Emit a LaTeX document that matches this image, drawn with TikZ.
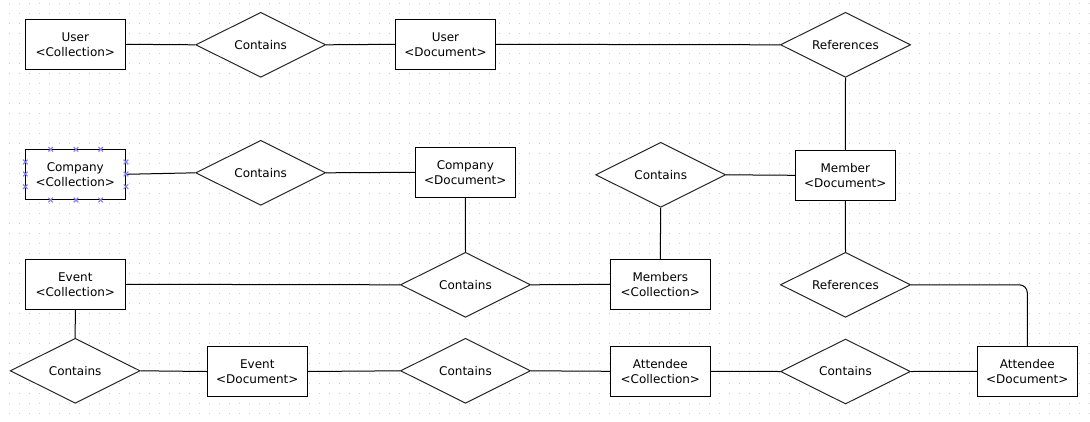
\documentclass[tikz,border=0pt]{standalone}
\usepackage{fontspec}
\setmainfont{DejaVu Sans}
\usetikzlibrary{shapes.geometric}
\definecolor{gridc}{RGB}{205,205,205}
\definecolor{selc}{RGB}{128,128,255}
\tikzset{
  ent/.style={draw=black, fill=white, line width=1pt, rectangle, minimum width=100pt, minimum height=50pt, inner sep=0pt, align=center, font=\fontsize{12}{15}\selectfont},
  rel/.style={draw=black!85, fill=white, line width=1pt, diamond, aspect=2, minimum width=130pt, minimum height=65pt, inner sep=0pt, font=\fontsize{12}{15}\selectfont},
  conn/.style={draw=black, line width=1pt},
  selmark/.style={draw=selc, line width=1.1pt}
}
\begin{document}
\begin{tikzpicture}[x=1pt,y=-1pt]
\useasboundingbox (0,0) rectangle (1090,421);
\fill[white] (0,0) rectangle (1090,421);
\foreach \i in {0,...,108}{
  \foreach \j in {0,...,41}{
    \fill[gridc] ({9+10*\i},{3+10*\j}) rectangle ++(1,1);
  }
}
% nodes
\node[ent] (uc) at (75.3,44.3) {User\\\textless Collection\textgreater};
\node[rel] (c1) at (260.7,44.8) {Contains};
\node[ent] (ud) at (445.5,44.3) {User\\\textless Document\textgreater};
\node[rel] (r1) at (845.5,44.8) {References};

\node[ent] (cc) at (75.3,174.3) {Company\\\textless Collection\textgreater};
\node[rel] (c2) at (260.7,172.8) {Contains};
\node[ent] (cd) at (465.3,172.3) {Company\\\textless Document\textgreater};
\node[rel] (c3) at (660.7,174.8) {Contains};
\node[ent] (md) at (845.3,175.3) {Member\\\textless Document\textgreater};

\node[ent] (ec) at (75.3,284.3) {Event\\\textless Collection\textgreater};
\node[rel] (c4) at (465.5,284.8) {Contains};
\node[ent] (mc) at (660.3,284.3) {Members\\\textless Collection\textgreater};
\node[rel] (r2) at (845.5,284.8) {References};

\node[rel] (c5) at (75.2,370.8) {Contains};
\node[ent] (ed) at (257.3,371.5) {Event\\\textless Document\textgreater};
\node[rel] (c6) at (465.5,370.8) {Contains};
\node[ent] (ac) at (660.3,371.3) {Attendee\\\textless Collection\textgreater};
\node[rel] (c7) at (845.5,371.5) {Contains};
\node[ent] (ad) at (1027.3,371.3) {Attendee\\\textless Document\textgreater};

% connectors
\draw[conn] (uc.east) -- (c1.west);
\draw[conn] (c1.east) -- (ud.west);
\draw[conn] (ud.east) -- (r1.west);
\draw[conn] (r1.south) -- (md.north);
\draw[conn] (cc.east) -- (c2.west);
\draw[conn] (c2.east) -- (cd.west);
\draw[conn] (c3.east) -- (md.west);
\draw[conn] (c3.south) -- (mc.north);
\draw[conn] (cd.south) -- (c4.north);
\draw[conn] (ec.east) -- (c4.west);
\draw[conn] (c4.east) -- (mc.west);
\draw[conn] (md.south) -- (r2.north);
\draw[conn, rounded corners=8pt] (r2.east) -| (ad.north);
\draw[conn] (ec.south) -- (c5.north);
\draw[conn] (c5.east) -- (ed.west);
\draw[conn] (ed.east) -- (c6.west);
\draw[conn] (c6.east) -- (ac.west);
\draw[conn] (ac.east) -- (c7.west);
\draw[conn] (c7.east) -- (ad.west);

% selection handles on Company <Collection>
\foreach \p in {(50.7,149.3),(76,149.3),(100.7,149.3),(50.7,200),(76,200),(100.7,200),(25.3,162),(25.3,174),(25.3,186.7),(126,162),(126,174),(126,186.7)}{
  \draw[selmark] \p ++(-2.3,-2.3) -- ++(4.6,4.6);
  \draw[selmark] \p ++(-2.3,2.3) -- ++(4.6,-4.6);
}
\end{tikzpicture}
\end{document}
